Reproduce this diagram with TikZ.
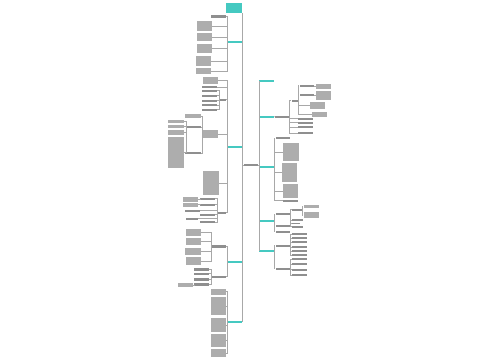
\documentclass[tikz,border=0pt]{standalone}
\usetikzlibrary{fit}
\definecolor{tealc}{HTML}{45C9C1}
\definecolor{linec}{HTML}{A8A8A8}
\tikzset{
  blk/.style={fill=black!32, draw=none, inner sep=0pt},
  txt/.style={fill=black!44, draw=none, inner sep=0pt},
  tb/.style={fill=tealc, draw=none, inner sep=0pt},
  tl/.style={fill=tealc, draw=none, inner sep=0pt},
  con/.style={draw=linec, line width=0.45pt}
}
\newcommand\mmnode[6][blk]{\node[#1,fit={(#3,#4) (#5,#6)}] (#2) {};}
\begin{document}
\begin{tikzpicture}[x=0.03cm,y=-0.03cm]
\useasboundingbox[fill=white] (0,0) rectangle (500,360);
% root
\mmnode[txt]{root}{244}{164}{257.5}{166}
% level 1 left
\mmnode[tl]{LT}{226}{3}{242}{13}
\mmnode[tb]{La}{227}{40.5}{242}{42.5}
\mmnode[tb]{Lb}{227}{146}{242}{148}
\mmnode[tb]{Lc}{227}{261}{242}{263}
\mmnode[tb]{Ld}{227}{321}{242}{323}
% level 1 right
\mmnode[tb]{Ra}{259}{79.5}{274}{81.5}
\mmnode[tb]{Rb}{259}{116}{274}{118}
\mmnode[tb]{Rc}{259}{166}{274}{168}
\mmnode[tb]{Rd}{259}{220}{274}{222}
\mmnode[tb]{Re}{259}{249.5}{274}{251.5}
% branch a
\mmnode[txt]{a1}{211}{15}{226}{17.5}
\mmnode{a2}{197}{21}{212}{31}
\mmnode{a3}{197}{33}{212}{41}
\mmnode{a4}{197}{44}{212}{53}
\mmnode{a5}{196}{56}{211}{66}
\mmnode{a6}{196}{68}{211}{74}
% branch b
\mmnode{b1}{203}{77}{218}{84}
\mmnode[txt]{b2}{202}{86}{217}{88}
\mmnode[txt]{b3}{219}{98.5}{226}{100.5}
\mmnode[txt]{b3a}{202}{89.5}{217}{91.5}
\mmnode[txt]{b3b}{202}{94.5}{217}{96.5}
\mmnode[txt]{b3c}{202}{99.5}{217}{101.5}
\mmnode[txt]{b3d}{202}{104}{217}{106}
\mmnode[txt]{b3e}{202}{108.5}{217}{110.5}
\mmnode{b4}{202}{130}{218}{138}
\mmnode{b4a}{185}{114}{201}{118}
\mmnode[txt]{b4b}{186}{126}{201}{128}
\mmnode[txt]{b4c}{185}{152}{201}{154}
\mmnode{b4b1}{168}{120}{184}{123}
\mmnode{b4b2}{168}{125}{184}{128}
\mmnode{b4b3}{168}{130}{184}{135}
\mmnode{b4b4}{168}{137}{184}{168}
\mmnode{b5}{203}{171}{219}{195}
\mmnode[txt]{b6}{217}{211.5}{226}{213.5}
\mmnode[txt]{b6a}{200}{197.5}{215}{199.5}
\mmnode{b6a1}{183}{196.5}{198}{201.5}
\mmnode[txt]{b6b}{200}{203.5}{215}{205.5}
\mmnode{b6b1}{183}{202.5}{198}{207}
\mmnode[txt]{b6c}{185}{209.5}{200}{211.5}
\mmnode[txt]{b6d}{200}{213.5}{215}{215.5}
\mmnode[txt]{b6e}{186}{217.5}{198}{219.5}
\mmnode[txt]{b6f}{200}{221}{215}{223}
% branch c
\mmnode[txt]{c1}{211}{245}{226}{247.5}
\mmnode{c1a}{186}{229}{201}{236}
\mmnode{c1b}{186}{238}{201}{245}
\mmnode{c1c}{185}{248}{201}{255}
\mmnode{c1d}{186}{257}{201}{265}
\mmnode[txt]{c2}{211}{275.5}{226}{277.5}
\mmnode[txt]{c2a}{194}{268}{209}{270.5}
\mmnode[txt]{c2b}{194}{272.5}{209}{275}
\mmnode[txt]{c2c}{194}{278}{209}{280.5}
\mmnode[txt]{c2d}{194}{283}{209}{286}
\mmnode{c2d1}{178}{283}{192.5}{287}
% branch d
\mmnode{d1}{211}{289}{225.5}{294.5}
\mmnode{d2}{211}{297}{225.5}{315}
\mmnode{d3}{211}{318}{225.5}{332}
\mmnode{d4}{211}{334}{225.5}{347}
\mmnode{d5}{211}{349}{225.5}{357}
% right branch b
\mmnode[txt]{r2}{275}{115.5}{289}{117.5}
\mmnode[txt]{r2a}{291.5}{99.5}{298}{101.5}
\mmnode[txt]{r2a1}{299.5}{84.5}{314}{86.5}
\mmnode{r2a1x}{316}{84}{331}{89}
\mmnode[txt]{r2a2}{299.5}{94}{314}{96}
\mmnode{r2a2x}{316}{91}{331}{99.5}
\mmnode{r2a3}{310}{102}{325}{109}
\mmnode{r2a4}{312}{112}{327}{117}
\mmnode[txt]{r2b}{298}{117.5}{313}{119.5}
\mmnode[txt]{r2c}{298}{121.5}{313}{123.5}
\mmnode[txt]{r2d}{298}{126}{313}{128}
\mmnode[txt]{r2e}{298}{132}{313}{134}
% right branch c
\mmnode[txt]{r3a}{275.5}{137}{290}{139}
\mmnode{r3b}{283}{143}{299}{161}
\mmnode{r3c}{282}{163}{297}{182}
\mmnode{r3d}{283}{184}{298}{198}
\mmnode[txt]{r3e}{283}{199.5}{298}{201.5}
% right branch d
\mmnode[txt]{r4a}{275.5}{213}{290}{215}
\mmnode[txt]{r4a1}{292}{208.5}{302}{210.5}
\mmnode{r4a1a}{303.5}{205}{319}{208}
\mmnode{r4a1b}{303.5}{212}{319}{218}
\mmnode[txt]{r4a2}{292}{219}{303}{221}
\mmnode[txt]{r4a3}{292}{222.5}{300}{224}
\mmnode[txt]{r4a4}{292}{225.5}{303}{227.5}
\mmnode[txt]{r4b}{275.5}{224.5}{290}{226.5}
\mmnode[txt]{r4c}{275.5}{230.5}{290}{232.5}
% right branch e
\mmnode[txt]{r5a}{275.5}{244.5}{290}{246.5}
\mmnode[txt]{r5a1}{292}{233}{307}{235}
\mmnode[txt]{r5a2}{292}{237}{307}{239}
\mmnode[txt]{r5a3}{292}{241}{307}{243}
\mmnode[txt]{r5a4}{292}{246}{307}{248}
\mmnode[txt]{r5a5}{292}{250}{307}{252}
\mmnode[txt]{r5a6}{292}{254}{307}{256}
\mmnode[txt]{r5b}{275.5}{267.5}{290}{269.5}
\mmnode[txt]{r5b1}{292}{258}{307}{260}
\mmnode[txt]{r5b2}{292}{263}{307}{265}
\mmnode[txt]{r5b3}{292}{268.5}{307}{270.5}
\mmnode[txt]{r5b4}{292}{274}{307}{276}
% connectors: root
\draw[con] (root.west) -| (LT.south east);
\foreach \c in {La,Lb,Lc,Ld} \draw[con] (root.west) -| (\c.east);
\foreach \c in {Ra,Rb,Rc,Rd,Re} \draw[con] (root.east) -| (\c.west);
% left connectors
\foreach \c in {a1,a2,a3,a4,a5,a6} \draw[con] (La.west) |- (\c.east);
\foreach \c in {b1,b2,b3,b4,b5,b6} \draw[con] (Lb.west) |- (\c.east);
\foreach \c in {b3a,b3b,b3c,b3d,b3e} \draw[con] (b3.west) |- (\c.east);
\foreach \c in {b4a,b4b,b4c} \draw[con] (b4.west) |- (\c.east);
\foreach \c in {b4b1,b4b2,b4b3,b4b4} \draw[con] (b4b.west) |- (\c.east);
\foreach \c in {b6a,b6b,b6c,b6d,b6e,b6f} \draw[con] (b6.west) |- (\c.east);
\draw[con] (b6a.west) |- (b6a1.east);
\draw[con] (b6b.west) |- (b6b1.east);
\foreach \c in {c1,c2} \draw[con] (Lc.west) |- (\c.east);
\foreach \c in {c1a,c1b,c1c,c1d} \draw[con] (c1.west) |- (\c.east);
\foreach \c in {c2a,c2b,c2c,c2d} \draw[con] (c2.west) |- (\c.east);
\draw[con] (c2d.west) |- (c2d1.east);
\foreach \c in {d1,d2,d3,d4,d5} \draw[con] (Ld.west) |- (\c.east);
% right connectors
\draw[con] (Rb.east) -- (r2.west);
\foreach \c in {r2a,r2b,r2c,r2d,r2e} \draw[con] (r2.east) |- (\c.west);
\foreach \c in {r2a1,r2a2,r2a3,r2a4} \draw[con] (r2a.east) |- (\c.west);
\draw[con] (r2a1.east) |- (r2a1x.west);
\draw[con] (r2a2.east) |- (r2a2x.west);
\foreach \c in {r3a,r3b,r3c,r3d,r3e} \draw[con] (Rc.east) |- (\c.west);
\foreach \c in {r4a,r4b,r4c} \draw[con] (Rd.east) |- (\c.west);
\foreach \c in {r4a1,r4a2,r4a3,r4a4} \draw[con] (r4a.east) |- (\c.west);
\foreach \c in {r4a1a,r4a1b} \draw[con] (r4a1.east) |- (\c.west);
\foreach \c in {r5a,r5b} \draw[con] (Re.east) |- (\c.west);
\foreach \c in {r5a1,r5a2,r5a3,r5a4,r5a5,r5a6} \draw[con] (r5a.east) |- (\c.west);
\foreach \c in {r5b1,r5b2,r5b3,r5b4} \draw[con] (r5b.east) |- (\c.west);
\end{tikzpicture}
\end{document}
